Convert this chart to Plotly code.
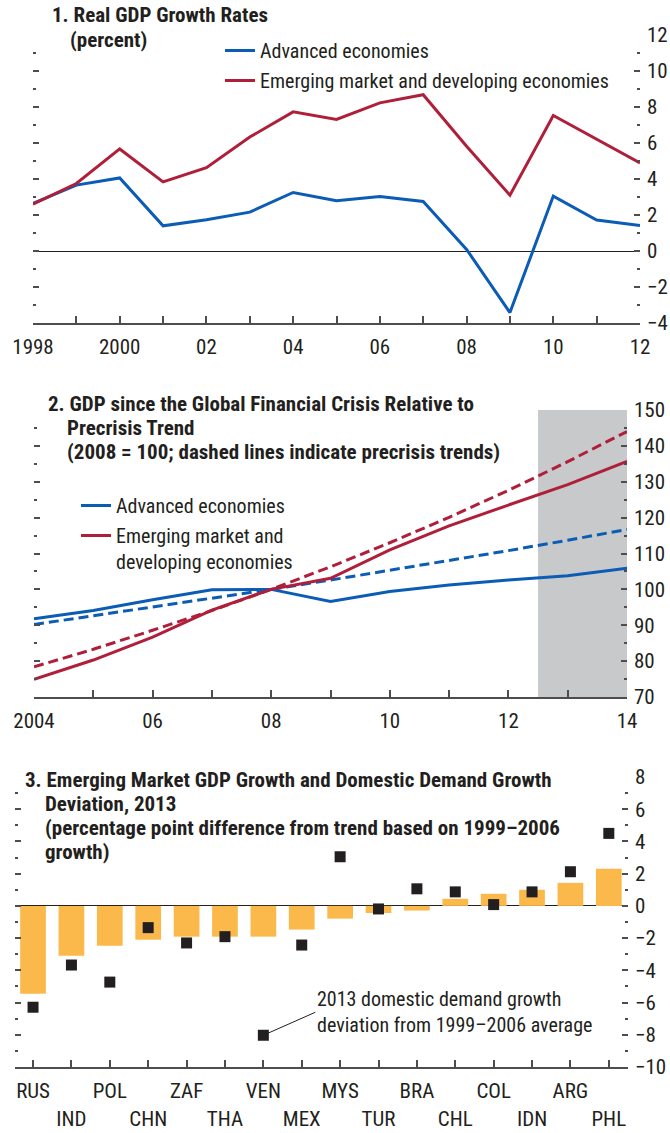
import plotly.graph_objects as go

# ---------------- data ----------------
years_growth = list(range(1998, 2013))
adv_growth = [2.64, 3.66, 4.06, 1.40, 1.74, 2.16, 3.25, 2.79, 3.03, 2.75, 0.09, -3.42, 3.05, 1.72, 1.42]
emde_growth = [2.60, 3.75, 5.67, 3.84, 4.63, 6.33, 7.73, 7.31, 8.23, 8.68, 5.82, 3.10, 7.53, 6.22, 4.89]
growth_ticktext = ["1998", "", "2000", "", "02", "", "04", "", "06", "", "08", "", "10", "", "12"]

years_level = list(range(2004, 2015))
adv_level = [91.8, 94.1, 97.1, 99.9, 100.0, 96.6, 99.4, 101.2, 102.6, 103.8, 105.9]
adv_trend = [90.2, 92.6, 95.0, 97.5, 100.0, 102.6, 105.3, 108.0, 110.8, 113.7, 116.7]
emde_level = [74.9, 80.3, 86.7, 94.2, 100.0, 103.1, 111.0, 117.7, 123.5, 129.2, 135.7]
emde_trend = [78.4, 83.3, 88.6, 94.1, 100.0, 106.3, 113.0, 120.1, 127.6, 135.6, 144.0]
level_ticktext = ["2004", "", "06", "", "08", "", "10", "", "12", "", "14"]
proj_start, proj_end = 2012.5, 2014

countries = ["RUS", "IND", "POL", "CHN", "ZAF", "THA", "VEN", "MEX",
             "MYS", "TUR", "BRA", "CHL", "COL", "IDN", "ARG", "PHL"]
gdp_dev = [-5.46, -3.09, -2.47, -2.10, -1.91, -1.91, -1.91, -1.47,
           -0.79, -0.44, -0.29, 0.44, 0.75, 1.00, 1.43, 2.30]
dd_dev = [-6.29, -3.67, -4.73, -1.35, -2.30, -1.91, -8.03, -2.43,
          3.05, -0.19, 1.06, 0.87, 0.08, 0.87, 2.12, 4.50]

# ---------------- style ----------------
W, H = 670, 1133
def px(x):
    return x / W
def py(y):
    return 1 - y / H

FONT = "Liberation Sans Narrow, Arial Narrow, Roboto Condensed, DejaVu Sans Condensed, sans-serif"
TXT = "#231F20"
AX = "#4D4D4F"
BLUE = "#0B5CB5"
RED = "#B01F3A"
BAR = "#FCB94B"
SHADE = "#C8C9CB"
FS = 21

fig = go.Figure()

# Panel 1
fig.add_trace(go.Scatter(x=years_growth, y=adv_growth, mode="lines", name="Advanced economies",
                         line=dict(color=BLUE, width=3), xaxis="x", yaxis="y", legend="legend",
                         legendgroup="a"))
fig.add_trace(go.Scatter(x=years_growth, y=emde_growth, mode="lines",
                         name="Emerging market and developing economies",
                         line=dict(color=RED, width=3), xaxis="x", yaxis="y", legend="legend",
                         legendgroup="b"))

# Panel 2
fig.add_trace(go.Scatter(x=years_level, y=adv_trend, mode="lines", showlegend=False,
                         line=dict(color=BLUE, width=3, dash="10px,5px"), xaxis="x2", yaxis="y2"))
fig.add_trace(go.Scatter(x=years_level, y=emde_trend, mode="lines", showlegend=False,
                         line=dict(color=RED, width=3, dash="10px,5px"), xaxis="x2", yaxis="y2"))
fig.add_trace(go.Scatter(x=years_level, y=adv_level, mode="lines", name="Advanced economies",
                         line=dict(color=BLUE, width=3), xaxis="x2", yaxis="y2", legend="legend2",
                         legendgroup="c"))
fig.add_trace(go.Scatter(x=years_level, y=emde_level, mode="lines",
                         name="Emerging market and<br>developing economies",
                         line=dict(color=RED, width=3), xaxis="x2", yaxis="y2", legend="legend2",
                         legendgroup="d"))

# Panel 3
fig.add_trace(go.Bar(x=countries, y=gdp_dev, marker=dict(color=BAR, line=dict(width=0)),
                     width=0.67, showlegend=False, xaxis="x3", yaxis="y3"))
fig.add_trace(go.Scatter(x=countries, y=dd_dev, mode="markers", showlegend=False,
                         marker=dict(symbol="square", size=11, color=TXT),
                         xaxis="x3", yaxis="y3"))

fig.add_shape(type="rect", x0=proj_start, x1=proj_end, xref="x2", yref="y2 domain", y0=0, y1=1,
              fillcolor=SHADE, line_width=0, layer="below")

def xax(domain, rng, anchor, **kw):
    d = dict(domain=domain, range=rng, anchor=anchor, ticks="inside", ticklen=7, tickwidth=1.5,
             tickcolor=AX, showline=True, linewidth=2, linecolor=AX, showgrid=False,
             zeroline=False, automargin=False, tickangle=0, ticklabelstandoff=4,
             tickfont=dict(size=FS, color=TXT, family=FONT))
    d.update(kw)
    return d

def yax(domain, rng, anchor, dtick, minor, zl):
    return dict(domain=domain, range=rng, anchor=anchor, side="right", dtick=dtick, tick0=0,
                ticks="inside", ticklen=6, tickwidth=1.5, tickcolor=AX, mirror="ticks",
                minor=dict(dtick=minor, ticks="inside", ticklen=3, tickwidth=1.5, tickcolor=AX,
                           showgrid=False),
                showline=False, showgrid=False, zeroline=zl, zerolinecolor=TXT, zerolinewidth=1,
                automargin=False, ticklabelstandoff=6,
                tickfont=dict(size=FS, color=TXT, family=FONT))

labels3 = [c if i % 2 == 0 else "<br>" + c for i, c in enumerate(countries)]

fig.update_layout(
    width=W, height=H, margin=dict(l=0, r=0, t=0, b=0, autoexpand=False),
    paper_bgcolor="white", plot_bgcolor="rgba(0,0,0,0)",
    font=dict(family=FONT, size=FS, color=TXT),
    xaxis=xax([px(33), px(640)], [1998, 2012], "y", tickmode="array",
              tickvals=years_growth, ticktext=growth_ticktext),
    yaxis=yax([py(323), py(35)], [-4, 12], "x", 2, 1, True),
    xaxis2=xax([px(34), px(627)], [2004, 2014], "y2", tickmode="array",
               tickvals=years_level, ticktext=level_ticktext),
    yaxis2=yax([py(697), py(410)], [70, 150], "x2", 10, 5, False),
    xaxis3=xax([px(15), px(628)], [-0.47, 15.5], "y3", type="category", tickmode="array",
               tickvals=countries, ticktext=labels3),
    yaxis3=yax([py(1067), py(777)], [-10, 8], "x3", 2, 1, True),
    legend=dict(x=px(220), y=py(31), xanchor="left", yanchor="top", bgcolor="rgba(0,0,0,0)",
                font=dict(size=20, color=TXT), tracegroupgap=1, traceorder="grouped"),
    legend2=dict(x=px(76), y=py(486), xanchor="left", yanchor="top", bgcolor="rgba(0,0,0,0)",
                 font=dict(size=20, color=TXT), tracegroupgap=1, traceorder="grouped",
                 valign="top"),
    bargap=0.33,
)

def title(text, x, y):
    fig.add_annotation(text="<b>" + text + "</b>", x=px(x), y=py(y), xref="paper", yref="paper",
                       xanchor="left", yanchor="middle", showarrow=False,
                       font=dict(size=21, color=TXT, family=FONT))

title("1. Real GDP Growth Rates", 50, 15)
title("(percent)", 68, 40)
title("2. GDP since the Global Financial Crisis Relative to", 46, 404)
title("Precrisis Trend", 65, 428)
title("(2008 = 100; dashed lines indicate precrisis trends)", 65, 452)
title("3. Emerging Market GDP Growth and Domestic Demand Growth", 23, 780)
title("Deviation, 2013", 43, 804)
title("(percentage point difference from trend based on 1999\u20132006", 43, 828)
title("growth)", 43, 852)

# annotation for domestic demand marker
fig.add_annotation(x="VEN", y=dd_dev[countries.index("VEN")], xref="x3", yref="y3",
                   text="2013 domestic demand growth<br>deviation from 1999\u20132006 average",
                   showarrow=True, arrowhead=0, arrowwidth=1, arrowcolor=TXT,
                   ax=52, ay=-23, xanchor="left", yanchor="middle", align="left",
                   font=dict(size=20, color=TXT, family=FONT))

fig.write_html("out.html", config={"displayModeBar": False},
               post_script="document.body.style.margin='0px';")
